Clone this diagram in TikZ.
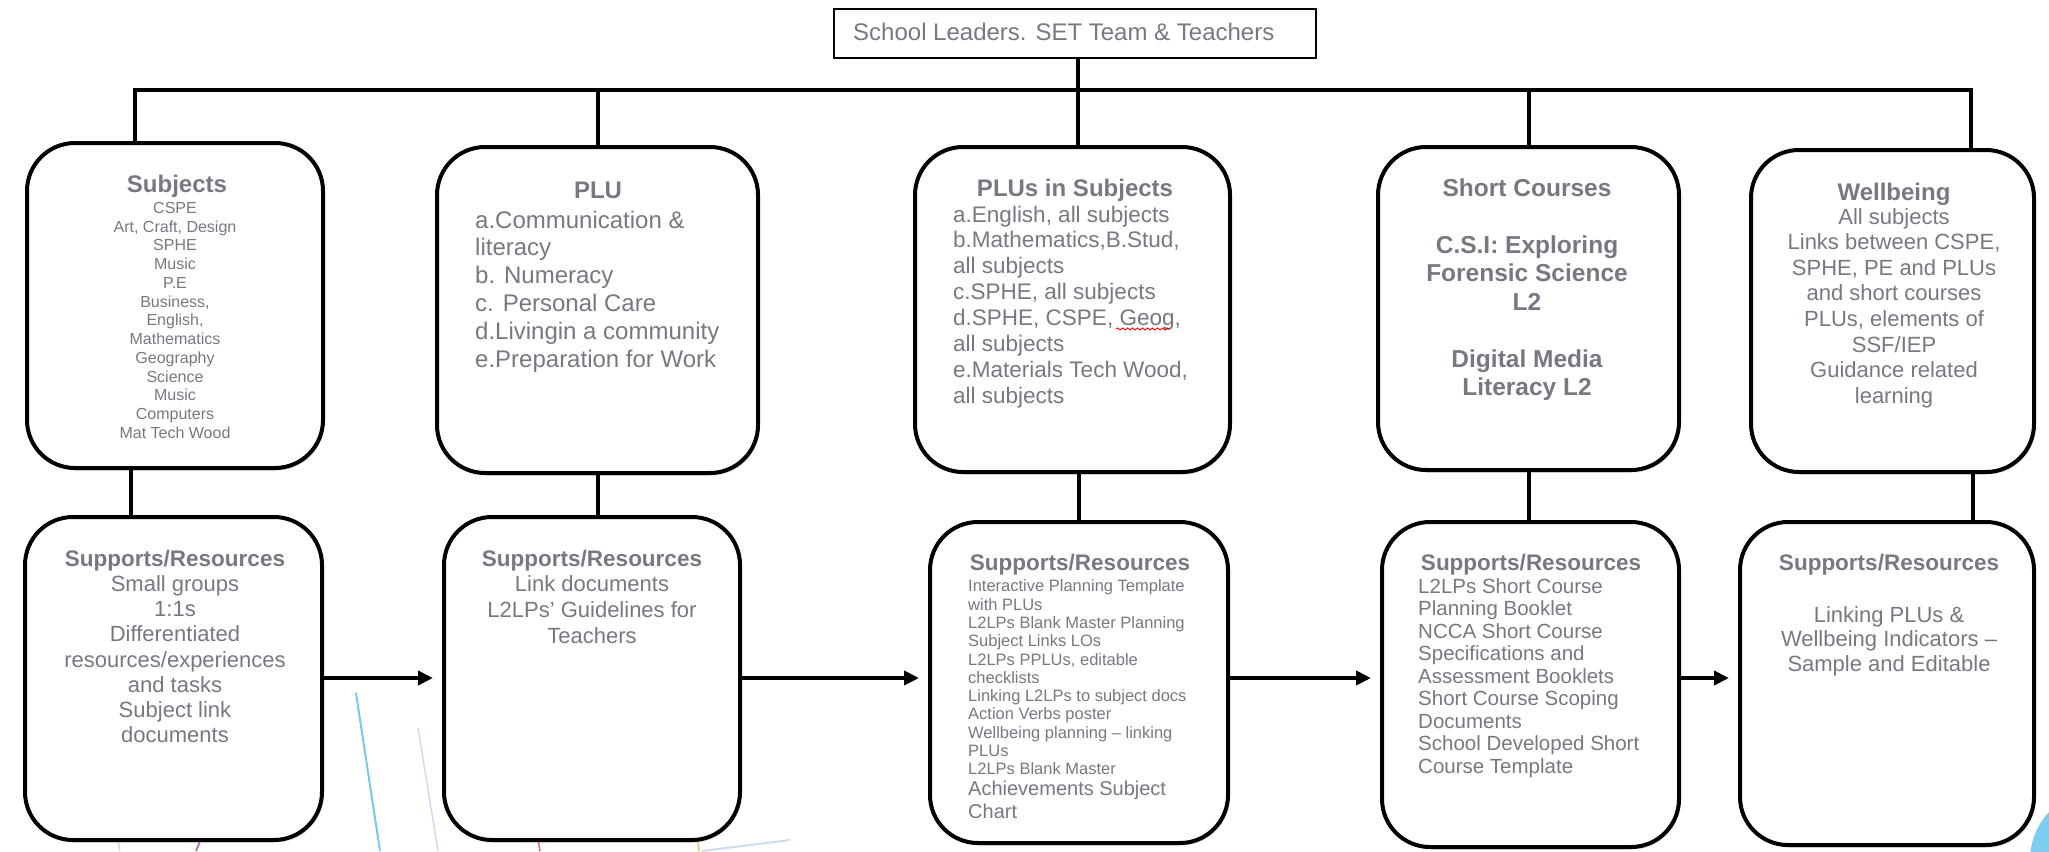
\documentclass[tikz,border=0pt]{standalone}
\usepackage{fontspec}
\setmainfont{Liberation Sans}
\usetikzlibrary{arrows.meta,shadows,decorations.pathmorphing}
\definecolor{txt}{RGB}{118,121,130}
\definecolor{decoblue}{RGB}{120,200,238}
\definecolor{decofaint}{RGB}{205,218,240}
\definecolor{decopink}{RGB}{210,110,140}
\definecolor{decoorange}{RGB}{240,190,120}
\definecolor{decopurple}{RGB}{170,100,170}
\definecolor{circblue}{RGB}{125,205,240}
\begin{document}
\begin{tikzpicture}[x=1pt,y=-1pt,
  card/.style={draw=black, line width=4pt, fill=white, rounded corners=48pt, inner sep=0pt,
    drop shadow={shadow xshift=1.5pt, shadow yshift=-2.5pt, opacity=0.3}},
  headbox/.style={draw=black, line width=2pt, fill=white, inner sep=0pt},
  conn/.style={draw=black, line width=4pt},
  arr/.style={conn, -{Triangle[length=15pt,width=14pt]}, shorten >=9pt},
  ttl/.style={text=txt, inner sep=0pt, anchor=base, font=\bfseries\fontsize{24}{28}\selectfont},
  ttls/.style={text=txt, inner sep=0pt, anchor=base, font=\bfseries\fontsize{22.5}{26}\selectfont},
  bd/.style={text=txt, inner sep=0pt}
]
\useasboundingbox (0,0) rectangle (2049,851);

% background decoration
\draw[decoblue, line width=2pt] (356,693) -- (380,851);
\draw[decofaint, line width=1.5pt] (418,728) -- (438,851);
\draw[decopink, line width=1.5pt] (535,820) -- (540,851);
\draw[decoorange, line width=1.5pt] (696,820) -- (699,851);
\draw[decofaint, line width=2pt] (702,851) -- (790,840);
\draw[decopurple, line width=1.5pt] (205,830) -- (196,851);
\draw[decofaint, line width=1.5pt] (116,830) -- (120,851);
\fill[circblue] (2100,860) circle[radius=70pt];

% coordinates
\coordinate (bar) at (0,90);
\coordinate (ry) at (0,678);
\coordinate (c1) at (135,0);
\coordinate (c2) at (598,0);
\coordinate (c3) at (1078,0);
\coordinate (c4) at (1529,0);
\coordinate (c5) at (1971,0);
\coordinate (d1) at (131,0);
\coordinate (d2) at (598,0);
\coordinate (d3) at (1079,0);
\coordinate (d4) at (1529,0);
\coordinate (d5) at (1973,0);

% head box
\node[headbox, minimum width=482pt, minimum height=49pt] (T) at (1075,33.5) {};
\node[bd, anchor=base west, font=\fontsize{24}{28}\selectfont] (Tt) at (853,41) {School Leaders. SET Team \& Teachers};

% top row boxes
\node[card, minimum width=296pt, minimum height=325pt] (A) at (175,305.5) {};
\node[card, minimum width=321pt, minimum height=326pt] (B) at (597.5,310) {};
\node[card, minimum width=315pt, minimum height=325pt] (C) at (1072.5,309.5) {};
\node[card, minimum width=301pt, minimum height=323pt] (D) at (1528.5,308.5) {};
\node[card, minimum width=283pt, minimum height=322pt] (E) at (1892.5,311) {};

% bottom row boxes
\node[card, minimum width=297pt, minimum height=323pt] (F) at (173.5,678.5) {};
\node[card, minimum width=296pt, minimum height=323pt] (G) at (592,678.5) {};
\node[card, minimum width=298pt, minimum height=321pt] (H) at (1079,682.5) {};
\node[card, minimum width=297pt, minimum height=325pt] (I) at (1530.5,684.5) {};
\node[card, minimum width=294pt, minimum height=323pt] (J) at (1887,683.5) {};

% connectors
\draw[conn] (c3 |- T.south) -- (c3 |- bar);
\draw[conn] (c1 |- A.north) -- (c1 |- bar) -- (c5 |- bar) -- (c5 |- E.north);
\draw[conn] (c2 |- bar) -- (c2 |- B.north);
\draw[conn] (c3 |- bar) -- (c3 |- C.north);
\draw[conn] (c4 |- bar) -- (c4 |- D.north);
\draw[conn] (d1 |- A.south) -- (d1 |- F.north);
\draw[conn] (d2 |- B.south) -- (d2 |- G.north);
\draw[conn] (d3 |- C.south) -- (d3 |- H.north);
\draw[conn] (d4 |- D.south) -- (d4 |- I.north);
\draw[conn] (d5 |- E.south) -- (d5 |- J.north);
\draw[arr] (F.east |- ry) -- (G.west |- ry);
\draw[arr] (G.east |- ry) -- (H.west |- ry);
\draw[arr] (H.east |- ry) -- (I.west |- ry);
\draw[arr] (I.east |- ry) -- (J.west |- ry);

% texts top row
\node[ttl] (At) at (177,192) {Subjects};
\node[bd, anchor=north, align=center, font=\fontsize{16}{18.75}\selectfont] (Ab) at (175,202)
  {CSPE\\Art, Craft, Design\\SPHE\\Music\\P.E\\Business,\\English,\\Mathematics\\Geography\\Science\\Music\\Computers\\Mat Tech Wood};

\node[ttl] (Bt) at (598,198) {PLU};
\node[bd, anchor=north west, align=left, font=\fontsize{24}{27.8}\selectfont] (Bb) at (475,210.6)
  {a.Communication \&\\literacy\\b. Numeracy\\c. Personal Care\\d.Livingin a community\\e.Preparation for Work};

\node[ttl] (Ct) at (1075,196) {PLUs in Subjects};
\node[bd, anchor=north west, align=left, font=\fontsize{22.5}{25.9}\selectfont] (Cb) at (953,205.5)
  {a.English, all subjects\\b.Mathematics,B.Stud,\\all subjects\\c.SPHE,\ all subjects\\d.SPHE, CSPE, Geog,\\all subjects\\e.Materials Tech Wood,\\all subjects};
\draw[red, line width=0.9pt, decorate, decoration={snake, segment length=5pt, amplitude=1pt}] (1116,329) -- (1170,329);

\node[bd, anchor=north, align=center, font=\bfseries\fontsize{24.5}{28.5}\selectfont] (Db) at (1527,178.5)
  {Short Courses\\[28.5pt]C.S.I: Exploring\\Forensic Science\\L2\\[28.5pt]Digital Media\\Literacy L2};

\node[ttl] (Et) at (1894,200) {Wellbeing};
\node[bd, anchor=north, align=center, font=\fontsize{22}{25.6}\selectfont] (Eb) at (1894,208)
  {All subjects\\Links between CSPE,\\SPHE, PE and PLUs\\and short courses\\PLUs, elements of\\SSF/IEP\\Guidance related\\learning};

% texts bottom row
\node[ttls] (Ft) at (175,566) {Supports/Resources};
\node[bd, anchor=north, align=center, font=\fontsize{22}{25.3}\selectfont] (Fb) at (175,575)
  {Small groups\\1:1s\\Differentiated\\resources/experiences\\and tasks\\Subject link\\documents};

\node[ttls] (Gt) at (592,566) {Supports/Resources};
\node[bd, anchor=north, align=center, font=\fontsize{22}{26}\selectfont] (Gb) at (592,575)
  {Link documents\\L2LPs' Guidelines for\\Teachers};

\node[ttls] (Ht) at (1080,570) {Supports/Resources};
\node[bd, anchor=north west, align=left, font=\fontsize{16.5}{18.3}\selectfont] (Hb) at (968,579.7)
  {Interactive Planning Template\\with PLUs\\L2LPs Blank Master Planning\\Subject Links LOs\\L2LPs PPLUs, editable\\checklists\\Linking L2LPs to subject docs\\Action Verbs poster\\Wellbeing planning -- linking\\PLUs\\L2LPs Blank Master\\[2.2pt]{\fontsize{20}{22}\selectfont Achievements Subject}\\[3.7pt]{\fontsize{20}{22}\selectfont Chart}};

\node[ttls] (It) at (1531,570) {Supports/Resources};
\node[bd, anchor=north west, align=left, font=\fontsize{20.5}{22.5}\selectfont] (Ib) at (1418,578.3)
  {L2LPs Short Course\\Planning Booklet\\NCCA Short Course\\Specifications and\\Assessment Booklets\\Short Course Scoping\\Documents\\School Developed Short\\Course Template};

\node[ttls] (Jt) at (1889,570) {Supports/Resources};
\node[bd, anchor=north, align=center, font=\fontsize{22}{24.5}\selectfont] (Jb) at (1889,606)
  {Linking PLUs \&\\Wellbeing Indicators --\\Sample and Editable};
\end{tikzpicture}
\end{document}
